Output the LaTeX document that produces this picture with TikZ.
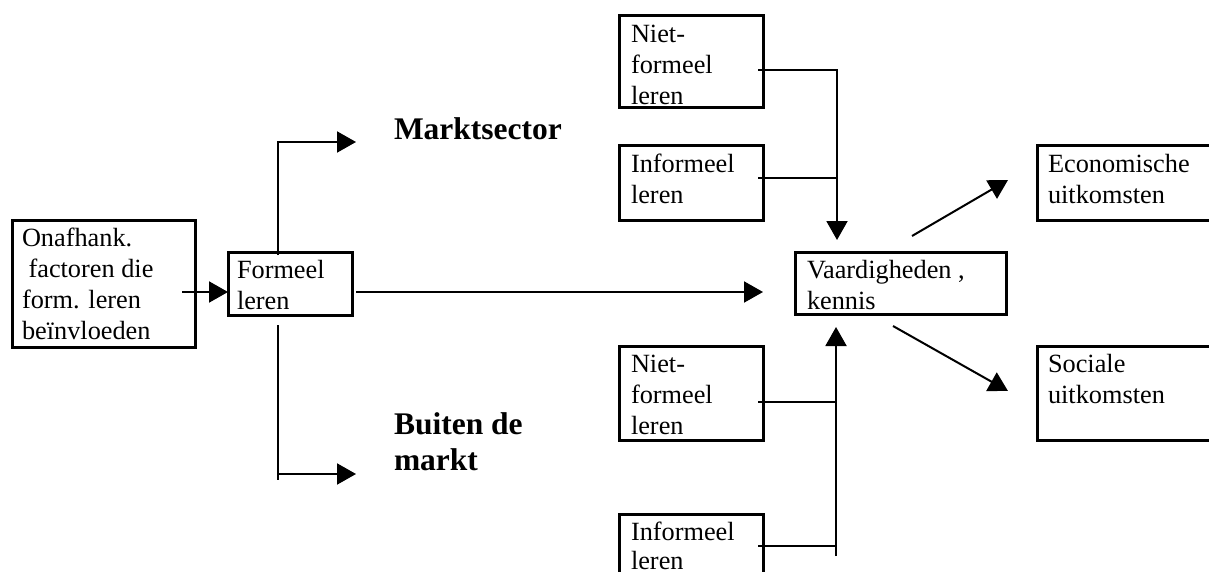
\documentclass[tikz,border=0pt]{standalone}
\usepackage{fontspec}
\setmainfont{Liberation Serif}
\usetikzlibrary{arrows.meta,calc}
\newcommand{\bxtext}[4]{\vbox to #2{\hsize=#1\relax\parindent=0pt\leftskip=#3\relax\rightskip=0pt plus 1fil\baselineskip=31pt\lineskiplimit=-20pt\vskip0pt\noindent\vrule height 26.5pt width 0pt depth 0pt\ignorespaces #4\par\vfil}}
\begin{document}
\begin{tikzpicture}[x=1pt,y=-1pt,
  box/.style={draw,line width=3pt,inner sep=0pt,outer sep=0pt,anchor=north west,font=\fontsize{26.3}{31}\selectfont},
  lbl/.style={inner sep=0pt,outer sep=0pt,anchor=base west,align=left,font=\fontsize{31.5}{36}\selectfont\bfseries},
  con/.style={line width=2pt},
  arr/.style={line width=2pt,-{Triangle[length=19pt,width=21pt]}}]
\useasboundingbox (0,0) rectangle (1209,572);
\clip (0,0) rectangle (1209,572);
\fill[white] (0,0) rectangle (1209,572);
% boxes
\node[box] (onaf) at (12,220) {\bxtext{183pt}{127pt}{10pt}{Onafhank.\\\hspace*{0.25em}factoren die\\form. leren\\beïnvloeden}};
\node[box] (formeel) at (228,252) {\bxtext{124pt}{63pt}{9pt}{Formeel\\leren}};
\node[box] (nf1) at (619,16) {\bxtext{144pt}{92pt}{12pt}{Niet-\\formeel\\leren}};
\node[box] (inf1) at (619,146) {\bxtext{144pt}{74pt}{12pt}{Informeel\\leren}};
\node[box] (vaard) at (795,252) {\bxtext{211pt}{62pt}{12pt}{Vaardigheden ,\\kennis}};
\node[box] (nf2) at (619,346) {\bxtext{144pt}{94pt}{12pt}{Niet-\\formeel\\leren}};
\node[box] (inf2) at (619,514) {\bxtext{144pt}{80pt}{12pt}{Informeel\\[-2.5pt]leren}};
\node[box] (econ) at (1037,146) {\bxtext{183pt}{74pt}{11pt}{Economische\\uitkomsten}};
\node[box] (soc) at (1037,346) {\bxtext{183pt}{94pt}{11pt}{Sociale\\uitkomsten}};
% bold labels
\node[lbl] (markt) at (394,140) {Marktsector};
\node[lbl] (buiten) at (394,470) {Buiten de\\markt};
% coordinates for free ends
\coordinate (mtip) at ([xshift=-38pt]markt.base west |- 0,142);
\coordinate (btip) at ([xshift=-38pt]buiten.base west |- 0,474);
% connectors
\draw[arr] ([shift={(-13,8.5)}]onaf.east) -- ([shift={(0,8.5)}]formeel.west);
\draw[arr] ([shift={(50,3)}]formeel.north west) |- (mtip);
\draw[con] ([shift={(50,10)}]formeel.south west) -- ++(0,155);
\draw[arr] ([shift={(50,159)}]formeel.south west) -- (btip);
\draw[arr] ([shift={(4,8.5)}]formeel.east) -- ([shift={(-32,9)}]vaard.west);
\draw[arr] ([shift={(-5,8)}]nf1.east) -| ([shift={(42,-12)}]vaard.north west);
\draw[con] ([shift={(-5,-5)}]inf1.east) -- ([shift={(42,-5)}]inf1.east -| vaard.west);
\draw[arr] ([shift={(73,42)}]inf2.north east) -- ([shift={(41,13)}]vaard.south west);
\draw[con] ([shift={(-5,9)}]nf2.east) -- ([shift={(41,9)}]nf2.east -| vaard.west);
\draw[con] ([shift={(-5,32)}]inf2.north east) -- ([shift={(41,32)}]inf2.north east -| vaard.west);
\draw[arr] ([shift={(117,-16)}]vaard.north west) -- ([shift={(-29,34)}]econ.north west);
\draw[arr] ([shift={(98,12)}]vaard.south west) -- ([shift={(-29,45)}]soc.north west);
\end{tikzpicture}
\end{document}
